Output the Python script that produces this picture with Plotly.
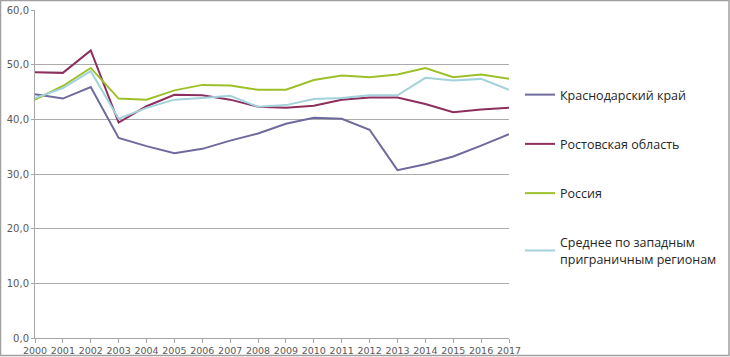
import plotly.graph_objects as go

years = list(range(2000, 2018))
krasnodar = [44.6, 43.8, 45.9, 36.6, 35.1, 33.8, 34.6, 36.1, 37.4, 39.2, 40.3, 40.1, 38.1, 30.7, 31.8, 33.2, 35.2, 37.3]
rostov = [48.6, 48.5, 52.6, 39.4, 42.4, 44.5, 44.4, 43.6, 42.3, 42.1, 42.5, 43.6, 44.0, 44.0, 42.8, 41.3, 41.8, 42.1]
russia = [43.6, 46.1, 49.4, 43.8, 43.6, 45.3, 46.3, 46.2, 45.4, 45.4, 47.2, 48.0, 47.7, 48.2, 49.4, 47.7, 48.2, 47.4]
west = [43.9, 45.7, 48.8, 40.1, 42.1, 43.6, 43.9, 44.3, 42.3, 42.6, 43.7, 43.9, 44.4, 44.4, 47.6, 47.1, 47.4, 45.4]

names = ["Краснодарский край", "Ростовская область", "Россия",
         "Среднее по западным<br>приграничным регионам"]
colors = ["#6f6a9e", "#8c2f5f", "#9dc02a", "#a2d2db"]
series = [krasnodar, rostov, russia, west]

fig = go.Figure()
for i, (n, c, s) in enumerate(zip(names, colors, series)):
    fig.add_trace(go.Scatter(x=years, y=s, name=n, mode="lines",
                             line=dict(color=c, width=2), legendgroup=str(i)))

L, R, T, B = 35, 221, 10, 19
W, H = 730, 357
pw, ph = W - L - R, H - T - B

fig.update_layout(
    width=W, height=H,
    margin=dict(l=L, r=R, t=T, b=B, autoexpand=False),
    paper_bgcolor="white", plot_bgcolor="white",
    separators=", ",
    showlegend=True,
    legend=dict(x=(520 - L) / pw, xanchor="left", y=(338 - 80) / ph, yanchor="top",
                tracegroupgap=30, itemwidth=30,
                font=dict(family="Open Sans", size=12.5, color="#262626"),
                bgcolor="rgba(0,0,0,0)"),
    xaxis=dict(range=[2000, 2017], tickmode="array", tickvals=years,
               ticktext=[str(y) for y in years], tickangle=0, automargin=False,
               showgrid=False, showline=True, linecolor="#a6a6a6", linewidth=1,
               ticks="outside", ticklen=4, tickcolor="#a6a6a6",
               tickfont=dict(family="DejaVu Sans", size=9.5, color="#595959"),
               zeroline=False, fixedrange=True),
    yaxis=dict(range=[0, 60], tickvals=[0, 10, 20, 30, 40, 50, 60], tickformat=".1f",
               automargin=False,
               showgrid=True, gridcolor="#ababab", gridwidth=1,
               showline=True, linecolor="#a6a6a6", linewidth=1,
               ticks="outside", ticklen=3, tickcolor="#a6a6a6",
               tickfont=dict(family="DejaVu Sans", size=10, color="#595959"),
               zeroline=False, fixedrange=True),
)

fig.add_shape(type="rect", xref="paper", yref="paper",
              x0=(0.5 - L) / pw, x1=(729 - L) / pw,
              y0=(338 - 355.5) / ph, y1=(338 - 0.5) / ph,
              line=dict(color="#a0a0a0", width=1.5), fillcolor="rgba(0,0,0,0)", layer="below")

fig.write_html("out.html", config={"displayModeBar": False},
               post_script="document.body.style.margin='0';document.body.style.overflow='hidden';")
